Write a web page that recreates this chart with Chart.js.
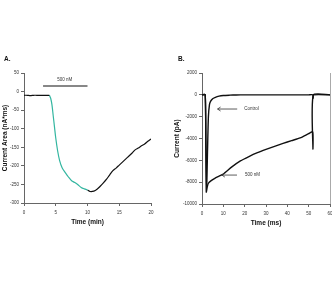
<!DOCTYPE html>
<html>
<head>
<meta charset="utf-8">
<script src="https://cdn.jsdelivr.net/npm/chart.js@4"></script>
<style>
  html, body { margin: 0; padding: 0; background: #fff; }
  #wrap { position: relative; width: 332px; height: 284px; }
  .panel { position: absolute; top: 0; width: 166px; height: 284px; }
</style>
</head>
<body>
<div id="wrap">
  <div class="panel" style="left:0"><canvas id="chart-a" width="166" height="284"></canvas></div>
  <div class="panel" style="left:166px"><canvas id="chart-b" width="166" height="284"></canvas></div>
</div>
<script>
// PANEL A - current area over time
const baseTime = [0, 0.5, 1, 1.5, 2, 3, 4];
const baseArea = [-10, -10, -11, -10, -10, -10, -10];

const drugTime = [4, 4.2, 4.4, 4.6, 4.8, 5, 5.3, 5.6, 6, 6.5, 7, 7.5, 8, 8.5, 9, 9.5, 10];
const drugArea = [-10, -18, -35, -65, -95, -125, -160, -185, -205, -218, -230, -240, -245, -251, -258, -262, -265];

const washTime = [10, 10.4, 11, 11.5, 12, 12.5, 13, 13.5, 14, 14.5, 15, 15.5, 16, 16.5, 17, 17.5, 18, 18.5, 19, 19.5, 20];
const washArea = [-265, -269, -268, -263, -255, -246, -236, -224, -213, -206, -198, -190, -182, -174, -166, -157, -152, -146, -141, -134, -128];

const stimTime = [3, 10];
const stimLevel = [15, 15];

const ticksAX = [0, 5, 10, 15, 20];
const ticksAY = [50, 0, -50, -100, -150, -200, -250, -300];

// PANEL B - current traces
const ctrlTime = [0, 1.5, 1.8, 2.2, 2.6, 3, 3.5, 4, 5, 6, 8, 10, 13, 16, 20, 30, 40, 50, 51.9, 52.1, 52.3, 60];
const ctrlCurrent = [0, 0, -4500, -8300, -5000, -2000, -900, -600, -350, -250, -120, -60, -30, -10, 0, 0, 0, 0, 0, -300, 0, 0];

const nmTime = [0, 1.5, 2, 2.5, 3, 4, 6, 8, 10, 14, 18, 22, 26, 30, 34, 38, 42, 46, 50, 51.9, 52.0, 52.2, 60];
const nmCurrent = [0, 0, -8900, -8400, -8100, -7900, -7650, -7450, -7250, -6600, -6050, -5650, -5300, -5000, -4720, -4450, -4200, -3950, -3550, -3380, -4950, 0, 0];

const ticksBX = [0, 10, 20, 30, 40, 50, 60];
const ticksBY = [2000, 0, -2000, -4000, -6000, -8000, -10000];

const pts = (xs, ys) => xs.map((x, i) => ({ x: x, y: ys[i] }));

const tickFont = { family: "Liberation Sans", size: 4.5 };
const titleFont = { family: "Liberation Sans", size: 6.5, weight: "bold" };

function axis(min, max, values, title, titlePad, size, isX) {
  return {
    type: "linear",
    min: min,
    max: max,
    afterBuildTicks: (s) => { s.ticks = values.map((v) => ({ value: v })); },
    afterFit: (s) => {
      if (isX) {
        s.height = size;
        s.paddingLeft = 0;
        s.paddingRight = 0;
      } else {
        s.width = size;
        s.paddingTop = 0;
        s.paddingBottom = 0;
      }
    },
    grid: { display: true, drawOnChartArea: false, drawTicks: true, tickLength: 3, color: "#666" },
    border: { display: true, color: "#666", width: 1 },
    ticks: {
      font: tickFont,
      color: "#333",
      padding: isX ? 4 : 2,
      maxRotation: 0,
      autoSkip: false,
      callback: (v) => String(v),
    },
    title: {
      display: true,
      text: title,
      font: titleFont,
      color: "#111",
      padding: isX ? { top: 0, bottom: titlePad } : { top: titlePad, bottom: 0 },
    },
  };
}

// text and arrows drawn on top, in data coordinates
const notesPlugin = {
  id: "notes",
  afterDraw(chart, args, opts) {
    const ctx = chart.ctx;
    const xs = chart.scales.x;
    const ys = chart.scales.y;
    ctx.save();
    ctx.fillStyle = "#111";
    ctx.font = "bold 6.5px 'Liberation Sans'";
    ctx.textBaseline = "middle";
    ctx.fillText(opts.panel, opts.panelX, 59);
    ctx.font = "4.5px 'Liberation Sans'";
    ctx.fillStyle = "#333";
    ctx.strokeStyle = "#333";
    ctx.lineWidth = 0.8;
    (opts.arrows || []).forEach((a) => {
      const tip = xs.getPixelForValue(a.tip);
      const tail = xs.getPixelForValue(a.tail);
      const py = ys.getPixelForValue(a.y);
      ctx.beginPath();
      ctx.moveTo(tail, py);
      ctx.lineTo(tip, py);
      ctx.moveTo(tip + 3, py - 2);
      ctx.lineTo(tip, py);
      ctx.lineTo(tip + 3, py + 2);
      ctx.stroke();
      ctx.textAlign = "left";
      ctx.fillText(a.text, xs.getPixelForValue(a.textX), py);
    });
    (opts.labels || []).forEach((l) => {
      ctx.textAlign = "center";
      ctx.fillText(l.text, xs.getPixelForValue(l.x), ys.getPixelForValue(l.y));
    });
    if (opts.rightBorder) {
      const a = chart.chartArea;
      ctx.strokeStyle = "#aaa";
      ctx.lineWidth = 1;
      ctx.beginPath();
      ctx.moveTo(a.right + 0.5, a.top);
      ctx.lineTo(a.right + 0.5, a.bottom);
      ctx.stroke();
    }
    ctx.restore();
  },
};

const lineSet = (data, color, width, tension) => ({
  data: data,
  showLine: true,
  borderColor: color,
  borderWidth: width,
  pointRadius: 0,
  tension: tension,
  fill: false,
});

const chartA = new Chart(document.getElementById("chart-a"), {
  type: "scatter",
  data: {
    datasets: [
      lineSet(pts(baseTime, baseArea), "#111", 1.2, 0.3),
      lineSet(pts(drugTime, drugArea), "#33b6a0", 1.2, 0.3),
      lineSet(pts(washTime, washArea), "#111", 1.2, 0.3),
      lineSet(pts(stimTime, stimLevel), "#111", 1.2, 0),
    ],
  },
  options: {
    responsive: false,
    animation: false,
    layout: { padding: { top: 73, right: 15, bottom: 50, left: 0 } },
    plugins: {
      legend: { display: false },
      tooltip: { enabled: false },
      notes: {
        panel: "A.",
        panelX: 4,
        labels: [{ text: "500 nM", x: 6.4, y: 31 }],
      },
    },
    scales: {
      x: axis(0, 20, ticksAX, "Time (min)", 8, 31, true),
      y: axis(-300, 50, ticksAY, "Current Area (nA*ms)", 1, 24, false),
    },
  },
  plugins: [notesPlugin],
});

const chartB = new Chart(document.getElementById("chart-b"), {
  type: "scatter",
  data: {
    datasets: [
      lineSet(pts(ctrlTime, ctrlCurrent), "#111", 1.4, 0.2),
      lineSet(pts(nmTime, nmCurrent), "#111", 1.4, 0.2),
    ],
  },
  options: {
    responsive: false,
    animation: false,
    layout: { padding: { top: 73, right: 2, bottom: 49, left: 0 } },
    plugins: {
      legend: { display: false },
      tooltip: { enabled: false },
      notes: {
        panel: "B.",
        panelX: 12,
        rightBorder: true,
        arrows: [
          { text: "Control", tip: 7.3, tail: 16.5, textX: 19.8, y: -1300 },
          { text: "500 nM", tip: 9.3, tail: 16.4, textX: 20.1, y: -7350 },
        ],
      },
    },
    scales: {
      x: axis(0, 60, ticksBX, "Time (ms)", 8, 31, true),
      y: axis(-10000, 2000, ticksBY, "Current (pA)", 7, 36, false),
    },
  },
  plugins: [notesPlugin],
});
</script>
</body>
</html>
